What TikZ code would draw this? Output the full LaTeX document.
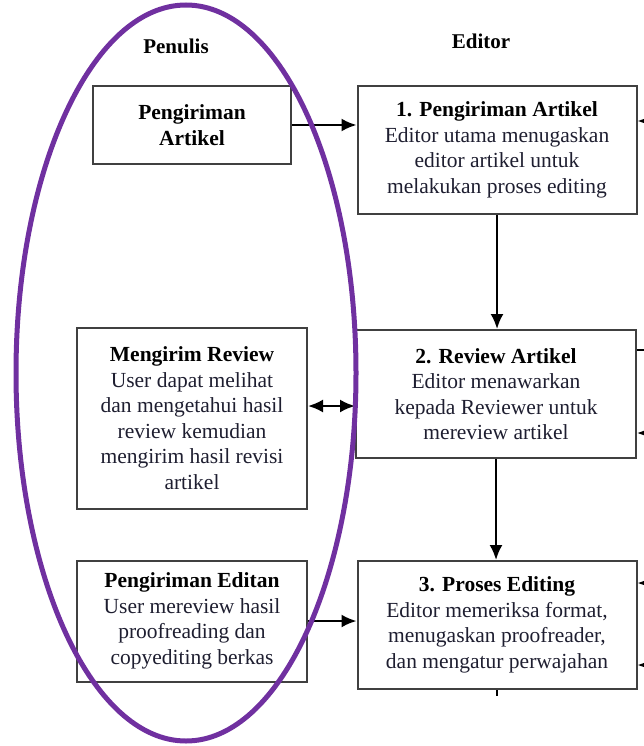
\documentclass[tikz,border=0pt]{standalone}
\usepackage{fontspec}
\setmainfont{Liberation Serif}
\usetikzlibrary{positioning,arrows.meta}
\definecolor{ungu}{RGB}{112,48,160}
\definecolor{isi}{RGB}{30,30,48}
\tikzset{
	kotak/.style={draw=black!75, line width=2pt, align=center, text=isi,
		font=\fontsize{21.5}{25.5}\selectfont, inner sep=0pt},
	judul/.style={font=\fontsize{21}{25}\selectfont\bfseries},
	panah/.style={-{Latex[length=15pt,width=13pt]}, line width=2.2pt},
	dua panah/.style={{Latex[length=15pt,width=13pt]}-{Latex[length=15pt,width=13pt]}, line width=2.2pt}
}
\begin{document}
\begin{tikzpicture}[x=1pt, y=-1pt]
			\useasboundingbox (0,0) rectangle (644,746);
			
			\node[judul] (penulis) at (176,46) {Penulis};
			\node[judul] (editor) at (481,41) {Editor};
			
			% kolom penulis
			\node[kotak, minimum width=198pt, minimum height=78pt] (kirim) at (192,125)
			{\textbf{\color{black}Pengiriman}\\ \textbf{\color{black}Artikel}};
			\node[kotak, minimum width=230pt, minimum height=181pt] (revisi) at (192,418)
			{\textbf{\color{black}Mengirim Review}\\ User dapat melihat\\ dan mengetahui hasil\\ review kemudian\\ mengirim hasil revisi\\ artikel};
			\node[kotak, minimum width=230pt, minimum height=121pt] (editan) at (192,621)
			{\textbf{\color{black}Pengiriman Editan}\\ User mereview hasil\\ proofreading dan\\ copyediting berkas};
			
			% kolom editor
			\node[kotak, minimum width=279pt, minimum height=128pt] (satu) at (497,150)
			{\textbf{\color{black}1. Pengiriman Artikel}\\ Editor utama menugaskan\\ editor artikel untuk\\ melakukan proses editing};
			\node[kotak, minimum width=280pt, minimum height=128pt] (dua) at (496,394)
			{\textbf{\color{black}2. Review Artikel}\\ Editor menawarkan\\ kepada Reviewer untuk\\ mereview artikel};
			\node[kotak, minimum width=279pt, minimum height=128pt] (tiga) at (497,625)
			{\textbf{\color{black}3. Proses Editing}\\ Editor memeriksa format,\\ menugaskan proofreader,\\ dan mengatur perwajahan};
			
			\draw[panah] (kirim.east) -- (kirim.east -| satu.west);
			\draw[panah] (satu.south) -- (satu.south |- dua.north);
			\coordinate (tengah) at ([yshift=12pt]revisi.east);
			\draw[dua panah] (tengah) -- (tengah -| dua.west);
			\draw[panah] (dua.south) -- (dua.south |- tiga.north);
			\draw[panah] (editan.east) -- (editan.east -| tiga.west);
			\draw[line width=2.2pt] (tiga.south) -- ++(0,6);
			
			% panah dari kanan
			\foreach \n/\s in {satu/29pt, dua/-39pt, tiga/42pt, tiga/-40pt}
			{
				\coordinate (ujung) at ([yshift=\s]\n.east);
				\draw[panah] ([xshift=18pt]ujung) -- (ujung);
			}
			\coordinate (keluar) at ([yshift=44pt]dua.east);
			\draw[line width=2.2pt] (keluar) -- ++(14,0);
			
			\draw[ungu, line width=5pt] (186,373) ellipse [x radius=170, y radius=368];
\end{tikzpicture}
\end{document}
